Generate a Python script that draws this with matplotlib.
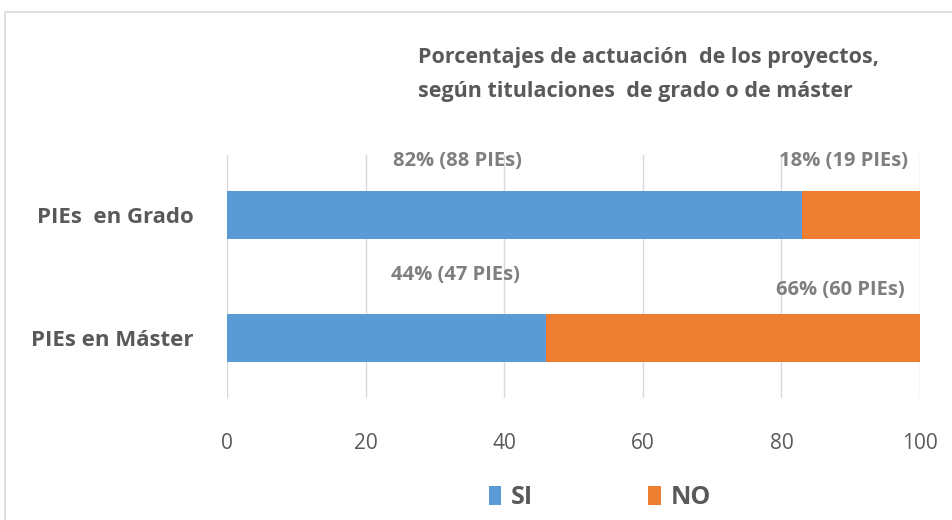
import matplotlib
matplotlib.use("Agg")
import matplotlib.pyplot as plt
from matplotlib import font_manager
from matplotlib.patches import Rectangle

# data
categories = ["PIEs en Máster", "PIEs  en Grado"]
si_values = [46, 83]
no_values = [54, 17]
labels_si = ["44% (47 PIEs)", "82% (88 PIEs)"]
labels_no = ["66% (60 PIEs)", "18% (19 PIEs)"]
ticks = [0, 20, 40, 60, 80, 100]

blue = "#5B9BD5"
orange = "#ED7D31"
dark = "#595959"
label_gray = "#7F7F7F"

names = set(f.name for f in font_manager.fontManager.ttflist)
font = "Liberation Sans Narrow" if "Liberation Sans Narrow" in names else "Open Sans"
plt.rcParams["font.family"] = [font, "DejaVu Sans"]

fig = plt.figure(figsize=(9.52, 5.2), dpi=100)
# outer chart frame (cropped at right/bottom like the screenshot)
fig.patches.append(Rectangle((5 / 952, -0.1), 1.2, 1 - 12 / 520 + 0.1,
                             transform=fig.transFigure, fill=False,
                             edgecolor="#D9D9D9", linewidth=1.2))

ax = fig.add_axes([227 / 952, 1 - 398 / 520, 693 / 952, 243 / 520])
y = [0, 1]
ax.barh(y, si_values, height=0.39, color=blue, label="SI", zorder=2)
ax.barh(y, no_values, left=si_values, height=0.39, color=orange, label="NO", zorder=2)

ax.set_xlim(0, 100)
ax.set_ylim(-0.49, 1.49)
ax.set_xticks(ticks)
ax.set_xticklabels([str(t) for t in ticks], fontsize=15, color=dark)
ax.set_yticks(y)
ax.set_yticklabels(categories, fontsize=16, fontweight="bold", color=dark)
ax.tick_params(length=0)
ax.tick_params(axis="x", pad=25)
ax.tick_params(axis="y", pad=24)
ax.grid(axis="x", color="#D9D9D9", linewidth=1, zorder=0)
for s in ax.spines.values():
    s.set_visible(False)

# value labels (positions as placed in the original)
label_pos_si = [(33, 0.51), (33.2, 1.44)]
label_pos_no = [(88.5, 0.39), (88.9, 1.44)]
for txt, (lx, ly) in zip(labels_si, label_pos_si):
    ax.text(lx, ly, txt, ha="center", va="center", fontsize=14.5,
            fontweight="bold", color=label_gray)
for txt, (lx, ly) in zip(labels_no, label_pos_no):
    ax.text(lx, ly, txt, ha="center", va="center", fontsize=14.5,
            fontweight="bold", color=label_gray)

fig.text(418 / 952, 1 - 58 / 520, "Porcentajes de actuación  de los proyectos,",
         fontsize=15.5, fontweight="bold", color=dark, va="center")
fig.text(418 / 952, 1 - 91 / 520, "según titulaciones  de grado o de máster",
         fontsize=15.5, fontweight="bold", color=dark, va="center")

leg = fig.legend(loc="center", bbox_to_anchor=(600 / 952, 1 - 498 / 520), ncol=2,
                 frameon=False, prop={"size": 18, "weight": "bold"},
                 handlelength=0.5, handleheight=0.8, columnspacing=4.6,
                 handletextpad=0.4)
for t in leg.get_texts():
    t.set_color(dark)

fig.savefig("out.png", dpi=100)
